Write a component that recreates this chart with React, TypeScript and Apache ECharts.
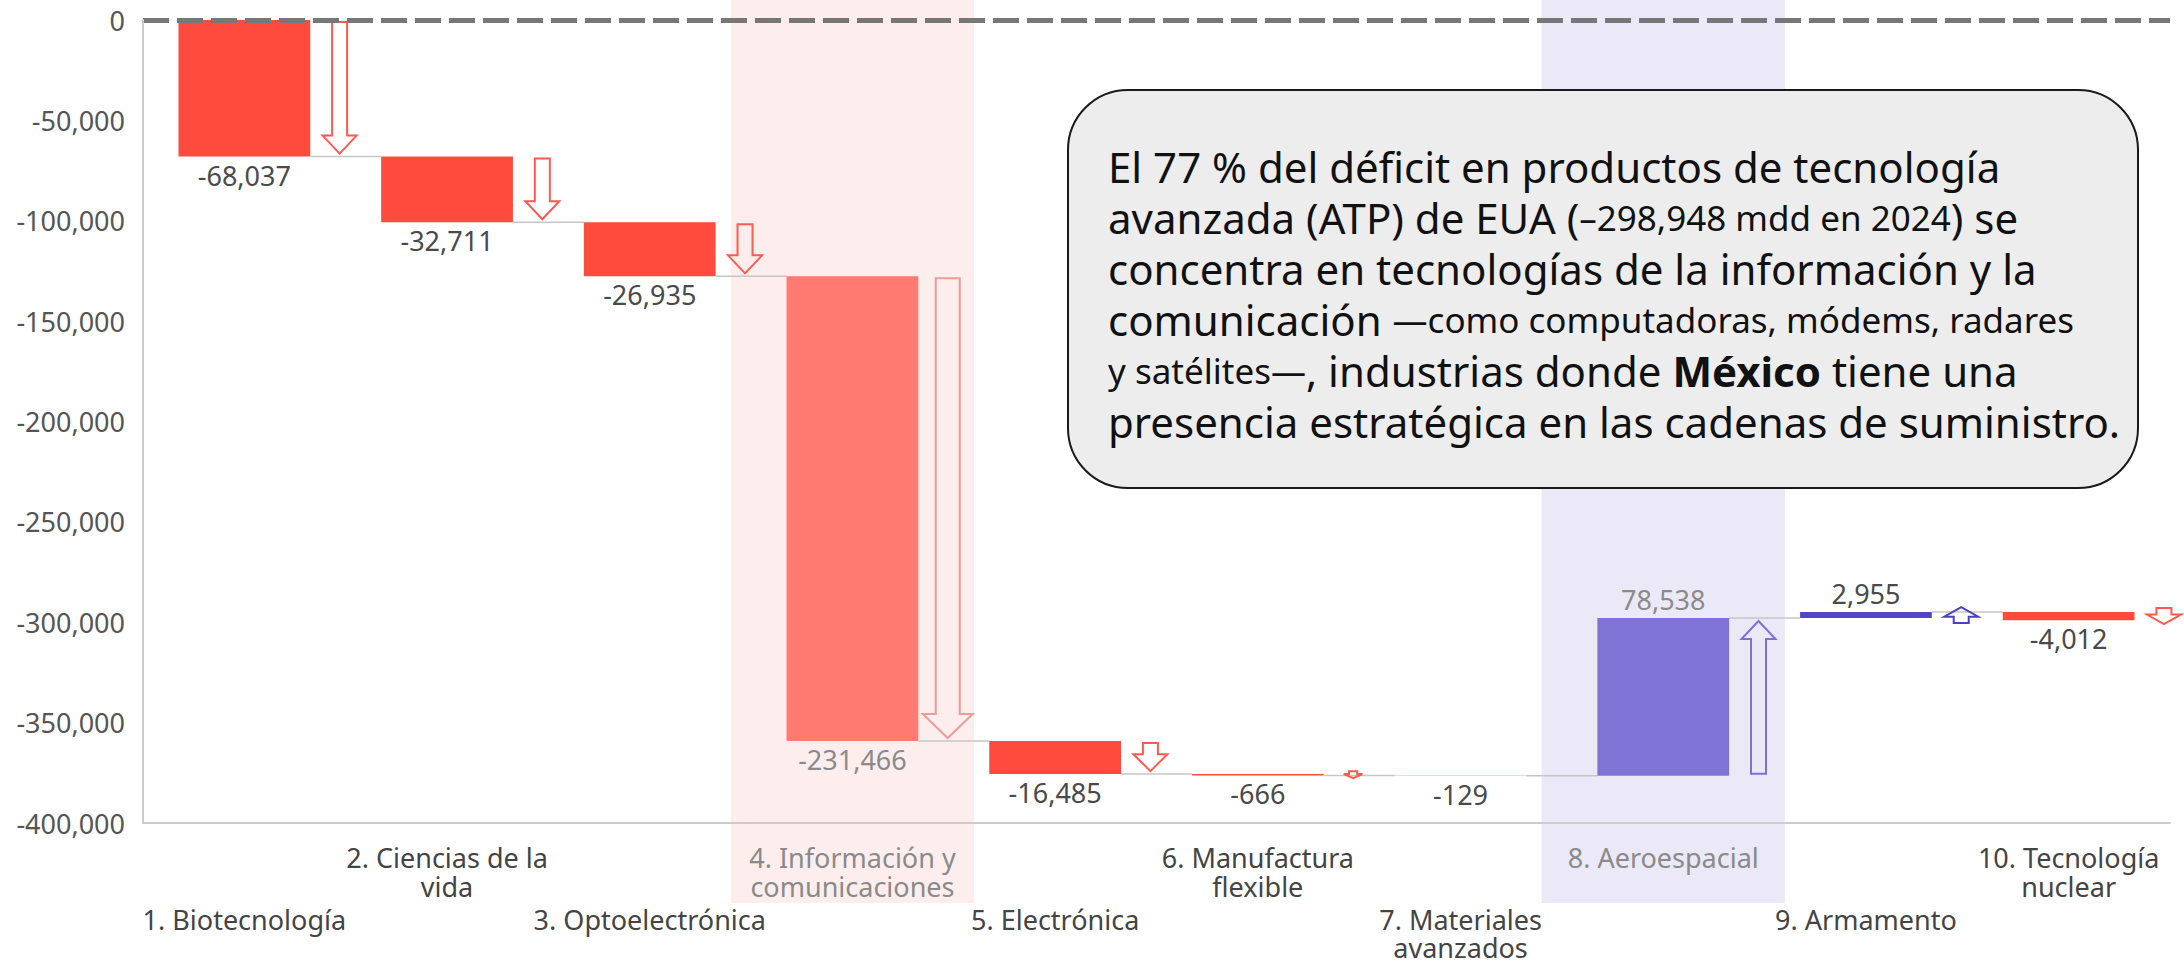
import React, { useEffect, useRef } from 'react';
import * as echarts from 'echarts';

const categories = [
  '1. Biotecnología',
  '2. Ciencias de la\nvida',
  '3. Optoelectrónica',
  '4. Información y\ncomunicaciones',
  '5. Electrónica',
  '6. Manufactura\nflexible',
  '7. Materiales\navanzados',
  '8. Aeroespacial',
  '9. Armamento',
  '10. Tecnología\nnuclear',
];
const changes = [-68037, -32711, -26935, -231466, -16485, -666, -129, 78538, 2955, -4012];
const highlighted = [3, 7];
const yMin = -400000;
const yMax = 0;
const yStep = 50000;

const FONT = '"Noto Sans", "DejaVu Sans", sans-serif';

export default function App() {
  const ref = useRef<HTMLDivElement>(null);
  useEffect(() => {
    const chart = echarts.init(ref.current as HTMLDivElement, undefined, { renderer: 'svg' });
    let run = 0;
    const items = changes.map((c, i) => {
      const s = run;
      run += c;
      return [i, s, run, c];
    });
    const n = changes.length;

    const mainRender = (params: any, api: any) => {
      const i = api.value(0) as number;
      const s = api.value(1) as number;
      const e = api.value(2) as number;
      const c = api.value(3) as number;
      const band = api.size([1, 0])[0];
      const p0 = api.coord([i, s]);
      const p1 = api.coord([i, e]);
      const cx = p0[0];
      const bw = band * 0.65;
      const yS = p0[1];
      const yE = p1[1];
      const hi = highlighted.includes(i);
      const neg = c < 0;
      const color = neg ? (hi ? '#ff7a70' : '#ff4b3e') : hi ? '#8073d6' : '#5246c6';
      const arrowColor = neg ? (hi ? '#ee9c97' : '#ff5a4f') : hi ? '#7d70d8' : '#4b40c4';
      const children: any[] = [];
      children.push({
        type: 'rect',
        shape: { x: cx - bw / 2, y: Math.min(yS, yE), width: bw, height: Math.abs(yE - yS) },
        style: { fill: color },
      });
      if (i < n - 1) {
        children.push({
          type: 'line',
          shape: { x1: cx + bw / 2, y1: yE, x2: cx + band - bw / 2, y2: yE },
          style: { stroke: '#c6c6c6', lineWidth: 1.5 },
        });
      }
      const L = Math.abs(yE - yS);
      if (L >= 1) {
        const dir = yE > yS ? 1 : -1;
        const big = Math.abs(c) > 150000;
        const small = L < 5;
        const k = small ? 0.55 : 1;
        const sw = (big ? 24 : 15) * k;
        const hw = (big ? 50 : 34) * k;
        const hhMax = big ? 24 : 18;
        let a0 = yS + dir * 2;
        let a1 = yE - dir * 3;
        const minLen = small ? 7 : 16;
        if (Math.abs(a1 - a0) < minLen) {
          const m = (yS + yE) / 2;
          a0 = m - (dir * minLen) / 2;
          a1 = m + (dir * minLen) / 2;
        }
        const len = Math.abs(a1 - a0);
        const hh = Math.min(hhMax, len * 0.6);
        const ax = cx + band * 0.47;
        const hb = a1 - dir * hh;
        children.push({
          type: 'polygon',
          shape: {
            points: [
              [ax - sw / 2, a0],
              [ax + sw / 2, a0],
              [ax + sw / 2, hb],
              [ax + hw / 2, hb],
              [ax, a1],
              [ax - hw / 2, hb],
              [ax - sw / 2, hb],
            ],
          },
          style: { fill: 'rgba(255,255,255,0)', stroke: arrowColor, lineWidth: 2 },
        });
      }
      children.push({
        type: 'text',
        x: cx,
        y: neg ? Math.max(yS, yE) + 5 : Math.min(yS, yE) - 5,
        style: {
          text: c.toLocaleString('en-US'),
          align: 'center',
          verticalAlign: neg ? 'top' : 'bottom',
          fill: hi ? '#8a8a8a' : '#4a4a4a',
          font: `27px ${FONT}`,
        },
      });
      return { type: 'group', children };
    };

    const bandRender = (params: any, api: any) => {
      const i = api.value(0) as number;
      const c = api.value(1) as number;
      const band = api.size([1, 0])[0];
      const cx = api.coord([i, 0])[0];
      const cs = params.coordSys;
      const w = band * 1.2;
      return {
        type: 'rect',
        shape: { x: cx - w / 2, y: cs.y - 20, width: w, height: cs.height + 100 },
        style: { fill: c < 0 ? '#fdeeed' : '#ebe9f8' },
      };
    };

    const annotation =
      '{a|El 77 % del déficit en productos de tecnología}\n' +
      '{a|avanzada (ATP) de EUA (}{s|–298,948 mdd en 2024}{a|) se}\n' +
      '{a|concentra en tecnologías de la información y la}\n' +
      '{a|comunicación }{s|—como computadoras, módems, radares}\n' +
      '{s|y satélites—}{a|, industrias donde }{b|México}{a| tiene una}\n' +
      '{a|presencia estratégica en las cadenas de suministro.}';

    const labelRich = {
      n: { color: '#444444', fontSize: 27, fontFamily: FONT },
      h: { color: '#8a8a8a', fontSize: 27, fontFamily: FONT },
    };
    const catFormatter = (row: number) => (v: string, idx: number) => {
      if (idx % 2 !== row) return '';
      const st = highlighted.includes(idx) ? 'h' : 'n';
      return `{${st}|${v}}`;
    };

    const option: any = {
      animation: false,
      backgroundColor: '#ffffff',
      grid: { left: 143, right: 14, top: 20, bottom: 143, containLabel: false, outerBoundsMode: 'none' },
      xAxis: [
        {
          type: 'category',
          data: categories,
          z: 5,
          axisLine: { show: true, onZero: false, lineStyle: { color: '#cccccc', width: 2 } },
          axisTick: { show: false },
          axisLabel: {
            interval: 0,
            hideOverlap: false,
            margin: 20,
            fontFamily: FONT,
            fontSize: 27,
            lineHeight: 29,
            color: '#444444',
            formatter: catFormatter(1),
            rich: {
              n: { ...labelRich.n, lineHeight: 29 },
              h: { ...labelRich.h, lineHeight: 29 },
            },
          },
        },
        {
          type: 'category',
          data: categories,
          position: 'bottom',
          z: 5,
          axisLine: { show: false, onZero: false },
          axisTick: { show: false },
          axisLabel: {
            interval: 0,
            hideOverlap: false,
            margin: 82,
            fontFamily: FONT,
            fontSize: 27,
            lineHeight: 28,
            color: '#444444',
            formatter: catFormatter(0),
            rich: {
              n: { ...labelRich.n, lineHeight: 28 },
              h: { ...labelRich.h, lineHeight: 28 },
            },
          },
        },
      ],
      yAxis: {
        type: 'value',
        min: yMin,
        max: yMax,
        interval: yStep,
        z: 5,
        axisLine: { show: true, lineStyle: { color: '#cccccc', width: 2 } },
        axisTick: { show: false },
        splitLine: { show: false },
        axisLabel: {
          margin: 18,
          fontFamily: FONT,
          fontSize: 27,
          color: '#555555',
          formatter: (v: number) => v.toLocaleString('en-US'),
        },
      },
      series: [
        {
          type: 'custom',
          z: 1,
          clip: false,
          silent: true,
          xAxisIndex: 0,
          data: highlighted.map((i) => [i, changes[i]]),
          encode: { x: 0, y: 1 },
          renderItem: bandRender,
        },
        {
          type: 'custom',
          z: 2,
          clip: false,
          silent: true,
          xAxisIndex: 0,
          data: items,
          encode: { x: 0, y: [1, 2] },
          renderItem: mainRender,
          markLine: {
            silent: true,
            symbol: ['none', 'none'],
            label: { show: false },
            lineStyle: { color: '#777777', width: 5, type: [26, 8] },
            data: [{ yAxis: 0 }],
          },
        },
      ],
      graphic: [
        {
          type: 'rect',
          z: 10,
          shape: { x: 1068, y: 90, width: 1070, height: 398, r: 60 },
          style: { fill: '#ededed', stroke: '#1a1a1a', lineWidth: 2 },
        },
        {
          type: 'text',
          z: 11,
          x: 1108,
          y: 141,
          style: {
            text: annotation,
            verticalAlign: 'top',
            align: 'left',
            fill: '#111111',
            font: `42px ${FONT}`,
            rich: {
              a: { fontSize: 42, lineHeight: 51, fontFamily: FONT, fill: '#111111' },
              s: { fontSize: 35, lineHeight: 51, fontFamily: FONT, fill: '#111111' },
              b: { fontSize: 42, lineHeight: 51, fontFamily: FONT, fontWeight: 'bold', fill: '#111111' },
            },
          },
        },
      ],
    };
    chart.setOption(option);
    return () => chart.dispose();
  }, []);
  return (
    <div
      ref={ref}
      style={{ position: 'fixed', left: 0, top: 0, width: 2184, height: 966, background: '#ffffff' }}
    />
  );
}
